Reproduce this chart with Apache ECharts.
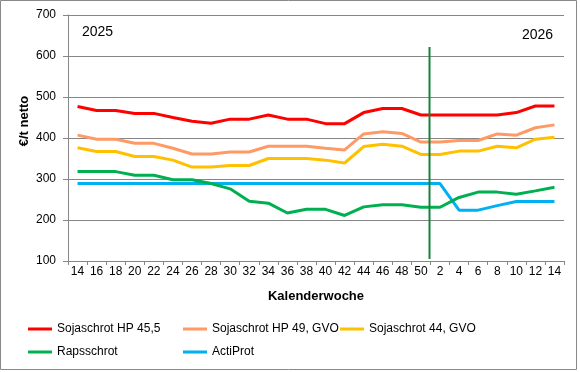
<!DOCTYPE html>
<html><head><meta charset="utf-8">
<script src="https://cdn.jsdelivr.net/npm/echarts@6/dist/echarts.min.js"></script>
<style>html,body{margin:0;padding:0;background:#fff}#c{width:580px;height:372px}</style>
</head><body><div id="c"></div>
<script>
const weeks = ['14','16','18','20','22','24','26','28','30','32','34','36','38','40','42','44','46','48','50','2','4','6','8','10','12','14'];
const sojaHP455 = [477,467,467,460,460,450,441,436,446,446,456,446,446,435,435,462,472,472,456,456,456,456,456,462,478,478];
const sojaHP49 = [407,397,397,387,387,375,361,361,366,366,380,380,380,375,371,410,415,411,390,390,394,394,410,407,425,432];
const soja44 = [376,367,367,355,355,346,329,329,333,333,350,350,350,346,339,379,385,380,360,360,368,368,380,376,397,402];
const raps = [318,318,318,309,309,298,298,289,276,246,241,217,226,226,211,232,237,237,231,231,255,268,268,263,271,280];
const actiProt = [289,289,289,289,289,289,289,289,289,289,289,289,289,289,289,289,289,289,289,289,224,224,235,245,245,245];
const yearBreak = [[18.95,622],[18.95,105]];
const seriesNames = ['Sojaschrot HP 45,5','Sojaschrot HP 49, GVO','Sojaschrot 44, GVO','Rapsschrot','ActiProt'];
const seriesData = [sojaHP455, sojaHP49, soja44, raps, actiProt];
const colors = ['#ff0000','#ff9966','#ffc000','#00b050','#00b0f0'];

const FONT = '"Liberation Sans", Arial, sans-serif';
const chart = echarts.init(document.getElementById('c'), null, {renderer:'canvas'});
const legendPos = [[28,330],[183,330],[340,330],[28,353],[183,353]];
const legends = seriesNames.map((n,i)=>({
  data:[n], left: legendPos[i][0], top: legendPos[i][1]-7, icon:'rect', itemWidth:24, itemHeight:3,
  textStyle:{fontFamily:FONT, fontSize:12, color:'#000'}, selectedMode:false, padding:0
}));
const series = seriesNames.map((n,i)=>({
  name:n, type:'line', data:seriesData[i], symbol:'none', lineStyle:{width:3, color:colors[i]},
  itemStyle:{color:colors[i]}, xAxisIndex:0, yAxisIndex:0, animation:false, z: 3 + (i===4?0:1)
}));
series.push({
  type:'line', data:yearBreak, xAxisIndex:1, yAxisIndex:0, symbol:'none',
  lineStyle:{width:2, color:'#17803d'}, animation:false, z:5
});
chart.setOption({
  animation:false,
  backgroundColor:'#fff',
  grid:{left:68, right:16, top:15, bottom:111, containLabel:false},
  legend: legends,
  xAxis:[{
    type:'category', data:weeks, boundaryGap:true,
    name:'Kalenderwoche', nameLocation:'middle', nameGap:29,
    nameTextStyle:{fontFamily:FONT, fontSize:13, fontWeight:'bold', color:'#000'},
    axisLine:{lineStyle:{color:'#868686', width:1}},
    axisTick:{show:true, length:4, interval:0, lineStyle:{color:'#868686'}},
    axisLabel:{interval:0, margin:5, fontFamily:FONT, fontSize:12, color:'#000'},
    splitLine:{show:false}
  },{
    type:'value', min:0, max:26, show:false
  }],
  yAxis:{
    type:'value', min:100, max:700, interval:100,
    axisLine:{show:true, lineStyle:{color:'#868686', width:1}},
    axisTick:{show:true, length:5, lineStyle:{color:'#868686'}},
    axisLabel:{margin:12, fontFamily:FONT, fontSize:12, color:'#000'},
    splitLine:{show:true, lineStyle:{color:'#868686', width:1}}
  },
  graphic:[
    {type:'rect', shape:{x:0.5, y:0.5, width:576, height:369}, style:{fill:null, stroke:'#888', lineWidth:1}, silent:true},
    {type:'text', x:24, y:121, rotation:Math.PI/2, style:{text:'€/t netto', fontFamily:FONT, fontSize:13, fontWeight:'bold', fill:'#000', align:'center', verticalAlign:'middle'}},
    {type:'text', x:82, y:32, style:{text:'2025', fontFamily:FONT, fontSize:14, fill:'#000', align:'left', verticalAlign:'middle'}},
    {type:'text', x:522, y:35, style:{text:'2026', fontFamily:FONT, fontSize:14, fill:'#000', align:'left', verticalAlign:'middle'}}
  ],
  series: series
});
</script></body></html>
